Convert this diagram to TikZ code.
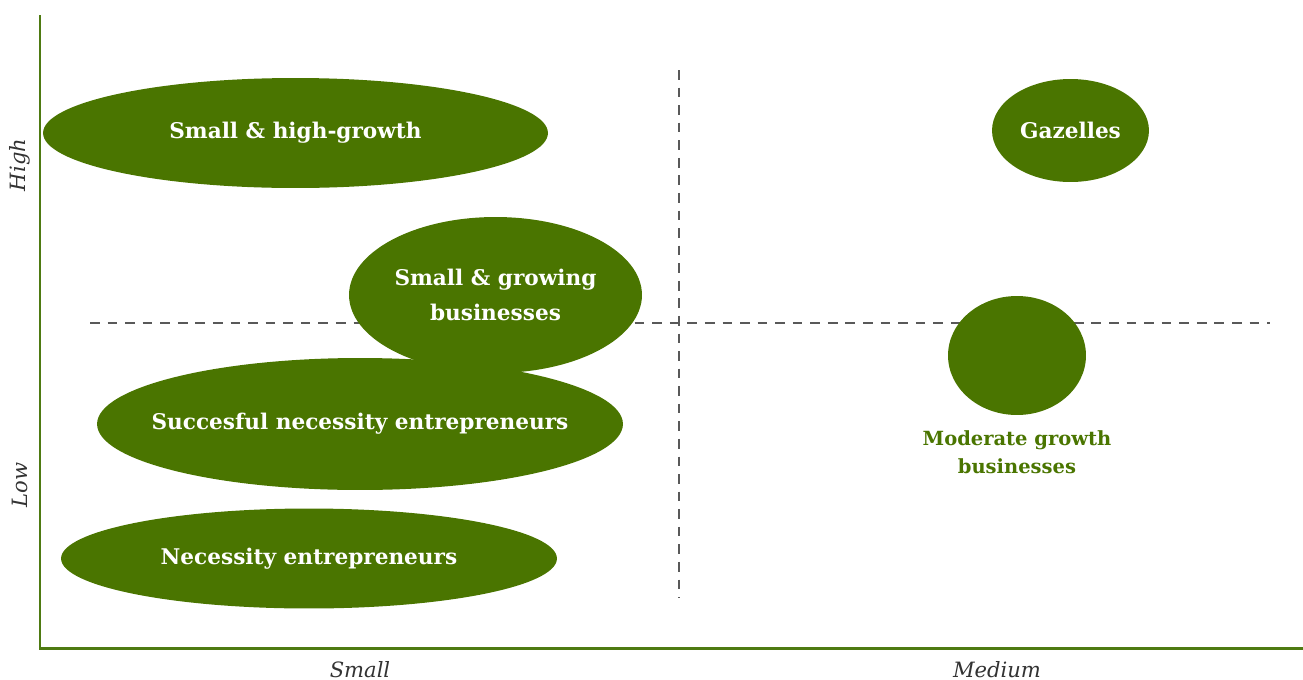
\documentclass[tikz,border=0pt]{standalone}
\usepackage{fontspec}
\setmainfont{DejaVu Serif}
\usetikzlibrary{positioning, shapes.geometric}
\definecolor{leaf}{HTML}{4A7500}
\definecolor{axisgreen}{HTML}{4E7A12}
\definecolor{inkgrey}{HTML}{333333}

\tikzset{
  blob/.style={ellipse, fill=leaf, inner sep=0pt},
  blobtext/.style={text=white, inner sep=0pt, font=\bfseries\fontsize{12.3}{20.4}\selectfont, align=center},
  axislabel/.style={text=inkgrey, inner sep=0pt, font=\itshape\fontsize{12}{14}\selectfont},
  guide/.style={draw=black!65, line width=0.6pt, dash pattern=on 5.5pt off 4.5pt}
}

\begin{document}
\begin{tikzpicture}[x=0.02cm, y=-0.02cm]
                \useasboundingbox (0,0) rectangle (1303,680);
                % axes and quadrant guides
                \coordinate (top) at (40,15);
                \coordinate (origin) at (40,648);
                \coordinate (right) at (1303,648);
                \coordinate (hl) at (90,323);
                \coordinate (hr) at (1270,323);
                \coordinate (vt) at (679,70);
                \coordinate (vb) at (679,598);
                \draw[guide] (hl) -- (hr);
                \draw[guide] (vt) -- (vb);
                \draw[axisgreen, line width=1.7pt] (top) -- (origin) -- (right);
                % groups
                \node[blob, minimum width=10.1cm, minimum height=2.2cm] (hgrowth) at (295.5,133) {};
                \node[blob, minimum width=5.86cm, minimum height=3.12cm] (growing) at (495.5,295) {};
                \node[blob, minimum width=10.52cm, minimum height=2.64cm] (succ) at (360,424) {};
                \node[blob, minimum width=9.92cm, minimum height=2.0cm] (necess) at (309,558.5) {};
                \node[blob, minimum width=3.14cm, minimum height=2.06cm] (gaz) at (1070.5,130.5) {};
                \node[blob, minimum width=2.76cm, minimum height=2.38cm] (moder) at (1017,355.5) {};
                \node[blobtext] (hgrowthtxt) at (hgrowth) {Small \& high-growth};
                \node[blobtext] (growingtxt) at (growing) {Small \& growing\\businesses};
                \node[blobtext] (succtxt) at (succ) {Succesful necessity entrepreneurs};
                \node[blobtext] (necesstxt) at (necess) {Necessity entrepreneurs};
                \node[blobtext] (gaztxt) at (gaz) {Gazelles};
                \node[below=0.3cm of moder.south, inner sep=0pt, text=leaf, font=\bfseries\fontsize{11.1}{15.9}\selectfont, align=center] (modlbl) {Moderate growth\\businesses};
                % axis labels
                \node[axislabel, rotate=90] (high) at (20,165) {High};
                \node[axislabel, rotate=90] (low) at (20,485) {Low};
                \node[axislabel, anchor=base] (small) at (360,677) {Small};
                \node[axislabel, anchor=base] (medium) at (997,677) {Medium};
            \end{tikzpicture}
\end{document}
